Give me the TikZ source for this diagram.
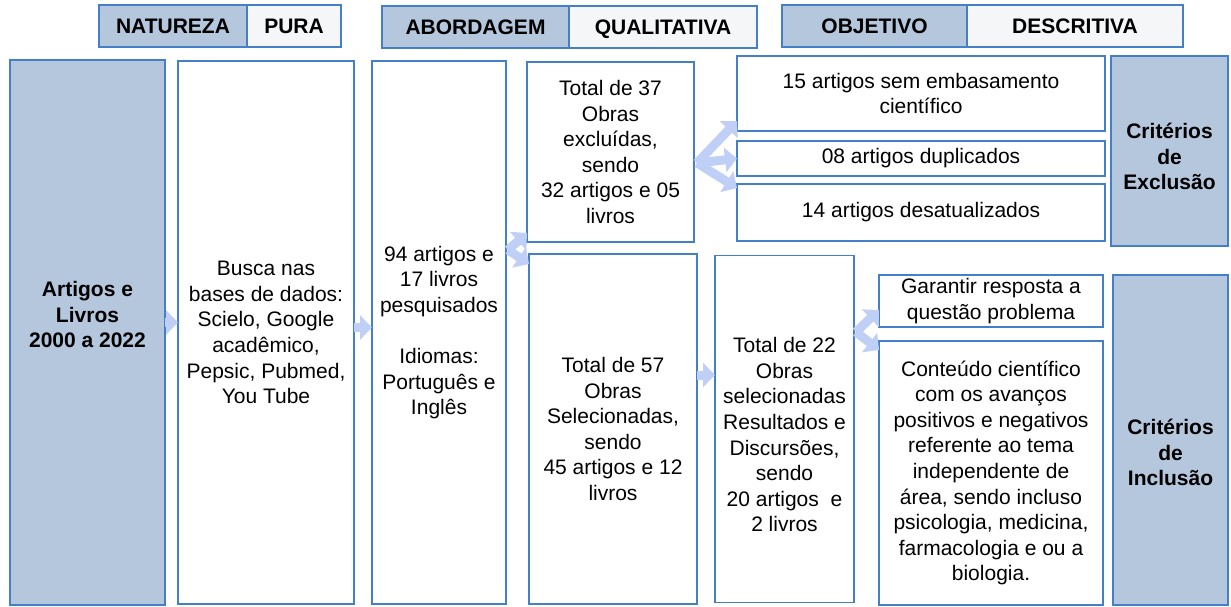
\documentclass[tikz,border=0pt]{standalone}
\usepackage{fontspec}
\setmainfont{Liberation Sans}
\usetikzlibrary{positioning, arrows.meta}
\definecolor{boxline}{RGB}{68,128,200}
\definecolor{boxfill}{RGB}{180,199,220}
\definecolor{tagfill}{RGB}{245,246,248}
\definecolor{arrowblue}{RGB}{192,207,246}
\tikzset{
x=1pt, y=-1pt, % one unit per pixel of the layout, y going down
box/.style={draw=boxline, line width=1.6pt, fill=white, align=center, inner sep=2pt, outer sep=0pt, font=\fontsize{21}{25.6}\selectfont}, % plain white box
darkbox/.style={box, fill=boxfill, font=\fontsize{21}{25.6}\selectfont\bfseries}, % shaded box with bold text
tag/.style={box, fill=tagfill, minimum height=42pt, text height=15pt, text depth=0pt, font=\fontsize{21}{25.6}\selectfont\bfseries}, % header labels
darktag/.style={tag, fill=boxfill},
fatarrow/.style={draw=arrowblue, line width=9pt, -{Triangle[width=24pt,length=12pt]}}, % thick pale arrows
}

\begin{document}
\begin{tikzpicture}
    \useasboundingbox (0,0) rectangle (1231,607);
    % header row
    \node[darktag, minimum width=148pt, anchor=north west] (natureza) at (99,5) {NATUREZA};
    \node[tag, minimum width=94pt, right=0pt of natureza] (pura) {PURA};
    \node[darktag, minimum width=187pt, anchor=north west] (abordagem) at (382,6) {ABORDAGEM};
    \node[tag, minimum width=188pt, right=0pt of abordagem] (qualitativa) {QUALITATIVA};
    \node[darktag, minimum width=185pt, anchor=north west] (objetivo) at (782,5) {OBJETIVO};
    \node[tag, minimum width=216pt, right=0pt of objetivo] (descritiva) {DESCRITIVA};

    % main flow
    \node[darkbox, minimum width=155pt, minimum height=545pt, anchor=north west] (artigos) at (10,60) {Artigos e\\Livros\\2000 a 2022\\[10pt]\mbox{}};
    \node[box, minimum width=176pt, minimum height=543pt, right=13pt of artigos] (busca) {Busca nas\\bases de dados:\\Scielo, Google\\acadêmico,\\Pepsic, Pubmed,\\You Tube};
    \node[box, minimum width=134pt, minimum height=543pt, right=18pt of busca] (pesq) {94 artigos e\\17 livros\\pesquisados\\[25.6pt]Idiomas:\\Português e\\Inglês};
    \node[box, minimum width=167pt, minimum height=180pt, anchor=north west] (excluidas) at (527,62) {Total de 37\\Obras\\excluídas,\\sendo\\32 artigos e 05\\livros};
    \node[box, minimum width=168pt, minimum height=350pt, below right=12pt and 2pt of excluidas.south west] (selecionadas) {Total de 57\\Obras\\Selecionadas,\\sendo\\45 artigos e 12\\livros};
    \node[box, minimum width=139pt, minimum height=347pt, right=18pt of selecionadas, text height=206pt] (final) {Total de 22\\Obras\\selecionadas\\Resultados e\\Discursões,\\sendo\\20 artigos~ e\\2 livros};

    % exclusion criteria
    \node[box, minimum width=368pt, minimum height=75pt, anchor=north west] (semcient) at (737,56) {15 artigos sem embasamento\\científico};
    \node[box, minimum width=368pt, minimum height=35pt, below=10pt of semcient] (duplic) {08 artigos duplicados};
    \node[box, minimum width=368pt, minimum height=57pt, below=8pt of duplic] (desatual) {14 artigos desatualizados};
    \node[darkbox, minimum width=117pt, minimum height=190pt, anchor=north west, text height=78pt] (exclusao) at (1111,56) {Critérios\\de\\Exclusão};

    % inclusion criteria
    \node[box, minimum width=224pt, minimum height=52pt, anchor=north west] (garantir) at (879,275) {Garantir resposta a\\questão problema};
    \node[box, minimum width=224pt, minimum height=264pt, below=14pt of garantir] (conteudo) {Conteúdo científico\\com os avanços\\positivos e negativos\\referente ao tema\\independente de\\área, sendo incluso\\psicologia, medicina,\\farmacologia e ou a\\biologia.};
    \node[darkbox, minimum width=115pt, minimum height=330pt, anchor=north west, text height=92pt] (inclusao) at (1113,275) {Critérios\\de\\Inclusão};

    % arrows
    \coordinate (fork1) at (508,250);
    \coordinate (fork2) at (697,163);
    \coordinate (fork3) at (856,332);
    \draw[fatarrow] ([yshift=10pt]artigos.east) -- ([yshift=10pt]busca.west);
    \draw[fatarrow] ([yshift=5pt]busca.east) -- ([yshift=5pt]pesq.west);
    \draw[fatarrow] (fork1) -- ([yshift=9pt]excluidas.south west);
    \draw[fatarrow] (fork1) -- ([yshift=-10pt]selecionadas.north west);
    \draw[fatarrow] (fork2) -- ([yshift=10pt]semcient.south west);
    \draw[fatarrow] (fork2) -- (duplic.west);
    \draw[fatarrow] (fork2) -- ([yshift=-4pt]desatual.north west);
    \draw[fatarrow] ([yshift=54pt]selecionadas.east) -- ([yshift=54pt]final.west);
    \draw[fatarrow] (fork3) -- ([yshift=17pt]garantir.south west);
    \draw[fatarrow] (fork3) -- ([yshift=-9pt]conteudo.north west);
\end{tikzpicture}
\end{document}
